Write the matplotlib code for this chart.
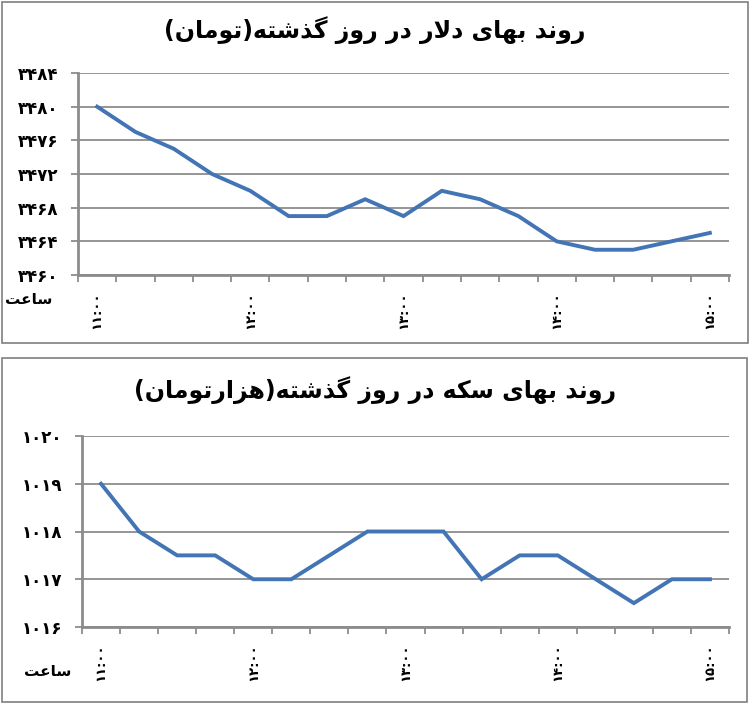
#!/usr/bin/env python3
"""Two-panel Persian line chart: dollar and coin price over the past day."""

import matplotlib

matplotlib.use("Agg")
import matplotlib.pyplot as plt
from matplotlib.patches import Rectangle
from matplotlib.ticker import FixedLocator, FuncFormatter

times = ["11:00", "11:15", "11:30", "11:45", "12:00", "12:15", "12:30", "12:45",
         "13:00", "13:15", "13:30", "13:45", "14:00", "14:15", "14:30", "14:45",
         "15:00"]
dollar = [3480, 3477, 3475, 3472, 3470, 3467, 3467, 3469, 3467, 3470, 3469,
          3467, 3464, 3463, 3463, 3464, 3465]
coin = [1019, 1018, 1017.5, 1017.5, 1017, 1017, 1017.5, 1018, 1018, 1018, 1017,
        1017.5, 1017.5, 1017, 1016.5, 1017, 1017]
dollar_ticks = [3460, 3464, 3468, 3472, 3476, 3480, 3484]
coin_ticks = [1016, 1017, 1018, 1019, 1020]

title_dollar = "روند بهای دلار در روز گذشته(تومان)"
title_coin = "روند بهای سکه در روز گذشته(هزارتومان)"
hour_label = "ساعت"

LINE = "#4374B5"
GRID = "#8C8C8C"
W, H = 750, 704

# contextual forms: (isolated, final, initial, medial); two entries = joins right only
FORMS = {
    "ا": ("\uFE8D", "\uFE8E"),
    "د": ("\uFEA9", "\uFEAA"),
    "ذ": ("\uFEAB", "\uFEAC"),
    "ر": ("\uFEAD", "\uFEAE"),
    "ز": ("\uFEAF", "\uFEB0"),
    "و": ("\uFEED", "\uFEEE"),
    "ب": ("\uFE8F", "\uFE90", "\uFE91", "\uFE92"),
    "ت": ("\uFE95", "\uFE96", "\uFE97", "\uFE98"),
    "س": ("\uFEB1", "\uFEB2", "\uFEB3", "\uFEB4"),
    "ش": ("\uFEB5", "\uFEB6", "\uFEB7", "\uFEB8"),
    "ع": ("\uFEC9", "\uFECA", "\uFECB", "\uFECC"),
    "ل": ("\uFEDD", "\uFEDE", "\uFEDF", "\uFEE0"),
    "م": ("\uFEE1", "\uFEE2", "\uFEE3", "\uFEE4"),
    "ن": ("\uFEE5", "\uFEE6", "\uFEE7", "\uFEE8"),
    "ه": ("\uFEE9", "\uFEEA", "\uFEEB", "\uFEEC"),
    "ی": ("\uFBFC", "\uFBFD", "\uFBFE", "\uFBFF"),
    "ک": ("\uFB8E", "\uFB8F", "\uFB90", "\uFB91"),
    "گ": ("\uFB92", "\uFB93", "\uFB94", "\uFB95"),
}


def joins_left(ch):
    return ch in FORMS and len(FORMS[ch]) == 4


def shape_fa(text):
    """Very small Persian shaper + RTL reorder, enough for the chart labels."""
    out = []
    i = 0
    while i < len(text):
        ch = text[i]
        prev = text[i - 1] if i > 0 else ""
        nxt = text[i + 1] if i + 1 < len(text) else ""
        if ch not in FORMS:
            out.append(ch)
            i += 1
            continue
        jp = joins_left(prev)
        if ch == "ل" and nxt == "ا":
            out.append("\uFEFC" if jp else "\uFEFB")
            i += 2
            continue
        jn = joins_left(ch) and nxt in FORMS
        f = FORMS[ch]
        if jp and jn:
            out.append(f[3])
        elif jp:
            out.append(f[1])
        elif jn:
            out.append(f[2])
        else:
            out.append(f[0])
        i += 1
    swap = {"(": ")", ")": "("}
    return "".join(swap.get(c, c) for c in reversed(out))


def fa_digits(s):
    return str(s).translate(str.maketrans("0123456789", "۰۱۲۳۴۵۶۷۸۹"))


def px_rect(x0, y0, x1, y1):
    return [x0 / W, 1 - y1 / H, (x1 - x0) / W, (y1 - y0) / H]


def draw_panel(fig, rect, values, yticks, title, title_y, hour_xy):
    ax = fig.add_axes(px_rect(*rect))
    x = list(range(len(values)))
    ax.plot(x, values, color=LINE, lw=2.8, solid_joinstyle="miter", zorder=3)
    ax.set_xlim(-0.5, len(values) - 0.5)
    ax.set_ylim(yticks[0], yticks[-1])

    ax.set_yticks(yticks)
    ax.yaxis.set_major_formatter(FuncFormatter(lambda v, _: fa_digits(int(v))))
    ax.grid(axis="y", color=GRID, lw=1.3)
    ax.set_axisbelow(True)

    # tick marks between categories, labels on every 4th category
    ax.xaxis.set_major_locator(FixedLocator([k - 0.5 for k in range(len(values) + 1)]))
    ax.xaxis.set_major_formatter(FuncFormatter(lambda v, _: ""))
    ax.set_xticks(x[::4], [fa_digits(t) for t in times[::4]], minor=True)
    ax.tick_params(axis="x", which="major", direction="out", length=5, width=1.3,
                   color=GRID)
    ax.tick_params(axis="x", which="minor", length=0, pad=12, labelrotation=90,
                   labelsize=9.5)
    ax.tick_params(axis="y", direction="out", length=5, width=1.3, color=GRID,
                   labelsize=12, pad=9)
    for lab in ax.get_yticklabels() + ax.get_xticklabels(minor=True):
        lab.set_fontweight("bold")

    for side in ("top", "right"):
        ax.spines[side].set_visible(False)
    for side in ("left", "bottom"):
        ax.spines[side].set_color(GRID)
        ax.spines[side].set_linewidth(2)

    fig.text(0.5, 1 - title_y / H, shape_fa(title), ha="center", va="center",
             fontsize=17, fontweight="bold")
    fig.text(hour_xy[0] / W, 1 - hour_xy[1] / H, shape_fa(hour_label), ha="center",
             va="center", fontsize=11, fontweight="bold")
    return ax


def main():
    plt.rcParams["font.family"] = ["DejaVu Sans"]
    fig = plt.figure(figsize=(W / 100, H / 100), dpi=100)

    for r in (px_rect(2, 2, 748, 343), px_rect(2, 358, 747, 702)):
        fig.patches.append(Rectangle((r[0], r[1]), r[2], r[3], transform=fig.transFigure,
                                     fill=False, edgecolor="#7F7F7F", lw=1.2))

    draw_panel(fig, (78, 73, 729, 275), dollar, dollar_ticks, title_dollar, 30, (29, 300))
    draw_panel(fig, (82, 436, 729, 627), coin, coin_ticks, title_coin, 390, (48, 672))

    fig.savefig("out.png", dpi=100, facecolor="white")


if __name__ == "__main__":
    main()
